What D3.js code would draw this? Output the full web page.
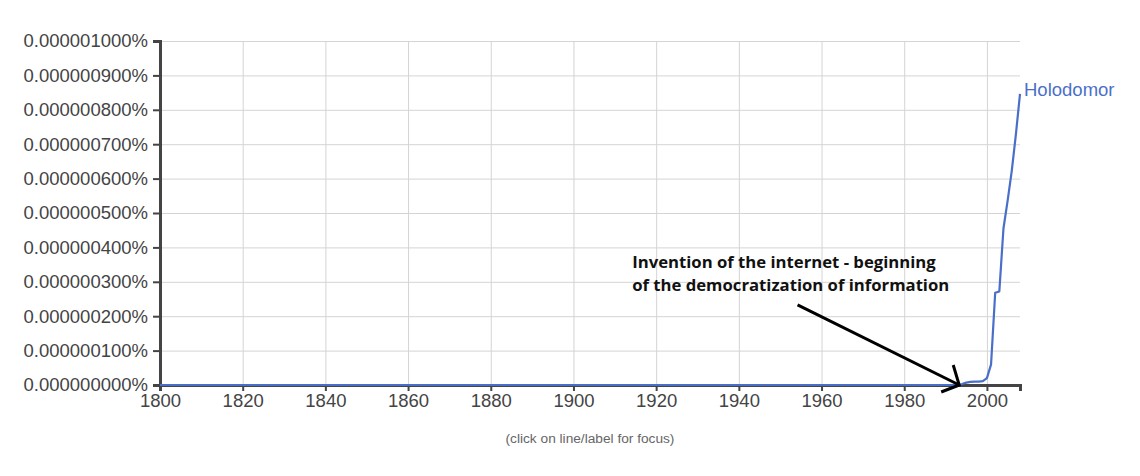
<!DOCTYPE html>
<html>
  <head>
    <script src="https://d3js.org/d3.v7.min.js"></script>
    <style>
      body { margin: 0; background: #fff; }
    </style>
  </head>
  <body>
    <div id="chart"></div>
    <script>
      const years = [1800, 1993, 1994, 1995, 1996, 1997, 1998, 1999, 2000, 2001, 2002, 2003, 2004, 2005, 2006, 2007, 2008];
      const holodomor = [
        0, 0, 0.000000003, 0.000000007, 0.000000009, 0.00000001, 0.00000001, 0.000000011,
        0.00000002, 0.00000006, 0.000000268, 0.000000272, 0.000000455, 0.000000535,
        0.000000622, 0.000000728, 0.000000846,
      ];
      const xTicks = [1800, 1820, 1840, 1860, 1880, 1900, 1920, 1940, 1960, 1980, 2000];
      const yTicks = [0, 0.0000001, 0.0000002, 0.0000003, 0.0000004, 0.0000005, 0.0000006, 0.0000007, 0.0000008, 0.0000009, 0.000001];
      const seriesName = "Holodomor";
      const noteLines = ["Invention of the internet - beginning", "of the democratization of information"];
      const noteAt = [1914.2, 0.00000034];
      const arrowFrom = [1954.2, 0.000000233];
      const arrowTo = [1993.3, 0];

      const width = 1140;
      const height = 476;
      const margin = { top: 41, right: 120, bottom: 91, left: 160 };
      const innerW = width - margin.left - margin.right;
      const innerH = height - margin.top - margin.bottom;

      const svg = d3
        .select("#chart")
        .append("svg")
        .attr("width", width)
        .attr("height", height)
        .style("font-family", "'Liberation Sans', Arial, sans-serif");

      const g = svg.append("g").attr("transform", `translate(${margin.left},${margin.top})`);

      const x = d3.scaleLinear().domain([1800, 2008]).range([0, innerW]);
      const y = d3.scaleLinear().domain([0, 0.000001]).range([innerH, 0]);

      // grid
      g.append("g")
        .attr("class", "grid")
        .call(d3.axisLeft(y).tickValues(yTicks).tickSize(-innerW).tickFormat(""))
        .call((s) => s.select(".domain").remove())
        .call((s) => s.selectAll("line").attr("stroke", "#d4d4d4"));

      g.append("g")
        .attr("class", "grid")
        .attr("transform", `translate(0,${innerH})`)
        .call(d3.axisBottom(x).tickValues(xTicks).tickSize(-innerH).tickFormat(""))
        .call((s) => s.select(".domain").remove())
        .call((s) => s.selectAll("line").attr("stroke", "#d4d4d4"));

      // series
      const series = years.map((yr, i) => [yr, holodomor[i]]);
      const line = d3
        .line()
        .x((d) => x(d[0]))
        .y((d) => y(d[1]));

      // axes
      const yAxis = g
        .append("g")
        .call(d3.axisLeft(y).tickValues(yTicks).tickSize(7).tickPadding(5).tickFormat((d) => d3.format(".9f")(d) + "%"));
      yAxis.select(".domain").attr("stroke", "#444").attr("stroke-width", 3);
      yAxis.selectAll(".tick line").attr("stroke", "#444").attr("stroke-width", 2);
      yAxis.selectAll("text").attr("fill", "#444").style("font-size", "18.5px");

      const xAxis = g
        .append("g")
        .attr("transform", `translate(0,${innerH})`)
        .call(d3.axisBottom(x).tickValues(xTicks).tickSize(6).tickPadding(3).tickFormat(d3.format("d")));
      xAxis.select(".domain").attr("stroke", "#444").attr("stroke-width", 3);
      xAxis.selectAll(".tick line").attr("stroke", "#444").attr("stroke-width", 2);
      xAxis.selectAll("text").attr("fill", "#444").style("font-size", "18.5px");

      g.append("path")
        .datum(series)
        .attr("fill", "none")
        .attr("stroke", "#4a6fc9")
        .attr("stroke-width", 2.2)
        .attr("stroke-linejoin", "round")
        .attr("d", line);

      const last = series[series.length - 1];
      g.append("text")
        .attr("x", x(last[0]) + 4)
        .attr("y", y(last[1]) + 2)
        .attr("fill", "#4a6fc9")
        .style("font-size", "18.5px")
        .text(seriesName);

      // annotation
      const note = g
        .append("text")
        .attr("x", x(noteAt[0]))
        .attr("y", y(noteAt[1]))
        .attr("fill", "#111")
        .style("font-family", "'Open Sans', sans-serif")
        .style("font-weight", "bold")
        .style("font-size", "16.7px");
      note
        .selectAll("tspan")
        .data(noteLines)
        .join("tspan")
        .attr("x", x(noteAt[0]))
        .attr("dy", (d, i) => (i === 0 ? 0 : 23))
        .text((d) => d);

      const tip = [x(arrowTo[0]), y(arrowTo[1])];
      g.append("line")
        .attr("x1", x(arrowFrom[0]))
        .attr("y1", y(arrowFrom[1]))
        .attr("x2", tip[0])
        .attr("y2", tip[1])
        .attr("stroke", "#000")
        .attr("stroke-width", 3);
      // hand-drawn barbs
      g.append("path")
        .attr("d", `M${tip[0] - 6},${tip[1] - 20}L${tip[0]},${tip[1]}L${tip[0] - 18},${tip[1] + 7}`)
        .attr("fill", "none")
        .attr("stroke", "#000")
        .attr("stroke-width", 3);

      svg
        .append("text")
        .attr("x", 590)
        .attr("y", 443)
        .attr("text-anchor", "middle")
        .attr("fill", "#666")
        .style("font-size", "13.7px")
        .text("(click on line/label for focus)");
    </script>
  </body>
</html>
